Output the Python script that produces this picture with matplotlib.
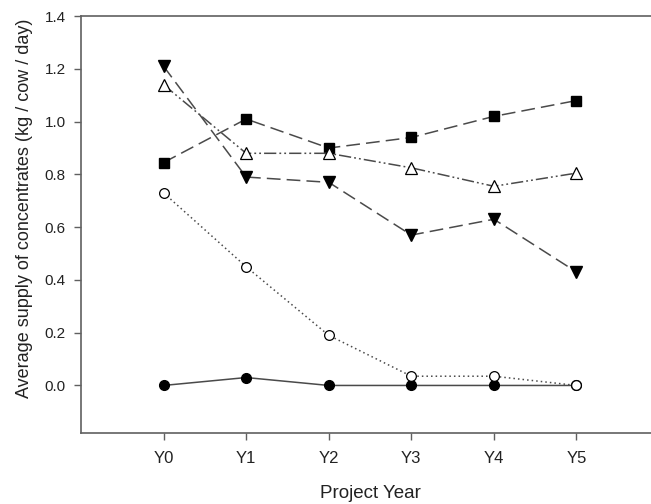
import numpy as np
import matplotlib
matplotlib.use("Agg")
import matplotlib.pyplot as plt

plt.rcParams['font.family'] = ['Liberation Sans', 'DejaVu Sans']

# data
years = ["Y0", "Y1", "Y2", "Y3", "Y4", "Y5"]
filled_square = [0.845, 1.01, 0.90, 0.94, 1.02, 1.08]
down_triangle = [1.21, 0.79, 0.77, 0.57, 0.63, 0.43]
open_triangle = [1.14, 0.88, 0.88, 0.825, 0.755, 0.805]
open_circle = [0.73, 0.45, 0.19, 0.035, 0.035, 0.0]
filled_circle = [0.0, 0.03, 0.0, 0.0, 0.0, 0.0]

x = np.arange(len(years))
lc = '#4a4a4a'

fig = plt.figure(figsize=(6.51, 5.04), dpi=100)
# axes box runs off the right edge, like the cropped original
ax = fig.add_axes([0.1244, 0.141, 0.888, 0.827])

# solid line first so the open circles sit on top of it
ax.plot(x, filled_circle, color=lc, lw=1.1, linestyle='-',
        marker='o', ms=7, mfc='black', mec='black')
ax.plot(x, filled_square, color=lc, lw=1.1, dashes=(9, 4),
        marker='s', ms=7, mfc='black', mec='black')
ax.plot(x, down_triangle, color=lc, lw=1.1, dashes=(9, 4),
        marker='v', ms=8, mfc='black', mec='black')
ax.plot(x, open_triangle, color=lc, lw=1.1, dashes=(8, 2, 1.2, 2, 1.2, 2),
        marker='^', ms=8, mfc='white', mec='black', mew=0.9)
ax.plot(x, open_circle, color=lc, lw=1.1, linestyle=(0, (1, 2)),
        marker='o', ms=7, mfc='white', mec='black', mew=0.9)

ax.set_xlim(-1, 6)
ax.set_ylim(-0.18, 1.4)
ax.set_xticks(x)
ax.set_xticklabels(years)
ax.set_yticks(np.arange(0, 1.41, 0.2))
ax.set_yticklabels([f"{v:.1f}" for v in np.arange(0, 1.41, 0.2)])

for side in ['left', 'bottom', 'top', 'right']:
    ax.spines[side].set_color('#606060')
    ax.spines[side].set_linewidth(1.2)

ax.tick_params(direction='out', length=5, width=1, color='#606060',
               labelcolor='#222222')
ax.tick_params(axis='y', labelsize=11, pad=6)
ax.tick_params(axis='x', labelsize=12, pad=8)

ax.set_xlabel("Project Year", fontsize=13.5, color='#222222', labelpad=14)
ax.set_ylabel("Average supply of concentrates (kg / cow / day)", fontsize=13,
              color='#222222')
ax.yaxis.set_label_coords(-0.083, 0.54)

fig.savefig("out.png", dpi=100)
